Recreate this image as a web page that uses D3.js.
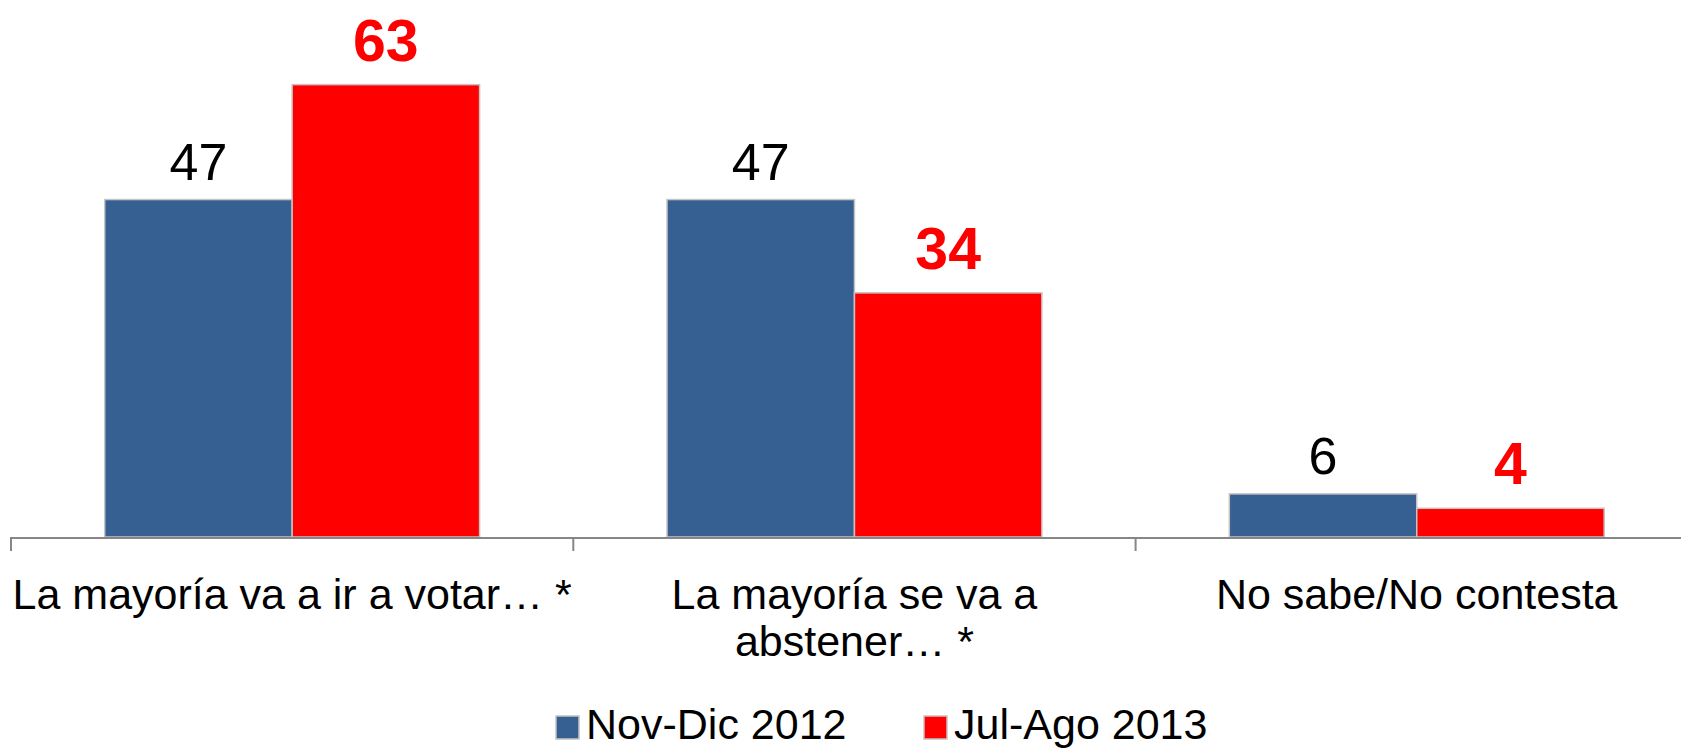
<!DOCTYPE html>
<html>
<head>
<meta charset="utf-8">
<script src="https://cdn.jsdelivr.net/npm/d3@7"></script>
<style>
  html, body { margin: 0; padding: 0; background: #fff; }
  svg { display: block; font-family: "Liberation Sans", Arial, sans-serif; }
</style>
</head>
<body>
<svg id="chart" width="1681" height="749"></svg>
<script>
// Survey responses, two waves
const categories = [
  ["La mayoría va a ir a votar… *"],
  ["La mayoría se va a", "abstener… *"],
  ["No sabe/No contesta"]
];
const seriesNames = ["Nov-Dic 2012", "Jul-Ago 2013"];
const novDic2012 = [47, 47, 6];
const julAgo2013 = [63, 34, 4];
const seriesValues = [novDic2012, julAgo2013];
const seriesColors = ["#376092", "#FF0000"];

const svg = d3.select("#chart");
const W = 1681, H = 749;

const baseY = 537;
const left = 11;
const catWidth = 562.3;

const x0 = d3.scaleBand()
  .domain(d3.range(categories.length))
  .range([left, left + catWidth * categories.length])
  .paddingInner(0).paddingOuter(0);

const x1 = d3.scaleBand()
  .domain(d3.range(seriesNames.length))
  .range([0, x0.bandwidth()])
  .paddingInner(0)
  .paddingOuter(0.5);

const y = d3.scaleLinear().domain([0, 70]).range([baseY, baseY - 70 * 7.18]);

// Bars
const groups = svg.append("g").selectAll("g")
  .data(categories.map((c, i) => i))
  .join("g")
  .attr("transform", i => `translate(${x0(i)},0)`);

groups.selectAll("rect")
  .data(i => seriesValues.map((vals, s) => ({ s, v: vals[i] })))
  .join("rect")
  .attr("x", d => x1(d.s))
  .attr("width", x1.bandwidth())
  .attr("y", d => y(d.v))
  .attr("height", d => baseY - y(d.v))
  .attr("fill", d => seriesColors[d.s])
  .attr("stroke", "#C4C4C4")
  .attr("stroke-width", 1.5);

// Value labels
groups.selectAll("text.val")
  .data(i => seriesValues.map((vals, s) => ({ s, v: vals[i] })))
  .join("text")
  .attr("class", "val")
  .attr("x", d => x1(d.s) + x1.bandwidth() / 2)
  .attr("y", d => y(d.v) - (d.s === 0 ? 20 : 24))
  .attr("text-anchor", "middle")
  .attr("font-size", d => d.s === 0 ? 52 : 59)
  .attr("font-weight", d => d.s === 0 ? "normal" : "bold")
  .attr("fill", d => d.s === 0 ? "#000" : "#FF0000")
  .text(d => d.v);

// Category axis
const axis = svg.append("g");
axis.append("line")
  .attr("x1", left).attr("x2", W)
  .attr("y1", baseY + 1).attr("y2", baseY + 1)
  .attr("stroke", "#868686").attr("stroke-width", 2);

axis.selectAll("line.tick")
  .data(d3.range(categories.length + 1))
  .join("line")
  .attr("class", "tick")
  .attr("x1", i => left + catWidth * i)
  .attr("x2", i => left + catWidth * i)
  .attr("y1", baseY).attr("y2", baseY + 14)
  .attr("stroke", "#868686").attr("stroke-width", 2);

axis.selectAll("text.cat")
  .data(categories.map((c, i) => ({ c, i })))
  .join("text")
  .attr("class", "cat")
  .attr("x", d => x0(d.i) + x0.bandwidth() / 2)
  .attr("y", 609)
  .attr("text-anchor", "middle")
  .attr("font-size", 43)
  .attr("fill", "#000")
  .each(function(d) {
    d3.select(this).selectAll("tspan")
      .data(d.c)
      .join("tspan")
      .attr("x", x0(d.i) + x0.bandwidth() / 2)
      .attr("dy", (t, k) => k === 0 ? 0 : 47)
      .text(t => t);
  });

// Legend
const legendItems = [
  { name: seriesNames[0], color: seriesColors[0], x: 556 },
  { name: seriesNames[1], color: seriesColors[1], x: 924 }
];
const legend = svg.append("g");
legend.selectAll("rect")
  .data(legendItems)
  .join("rect")
  .attr("x", d => d.x).attr("y", 716)
  .attr("width", 23).attr("height", 23)
  .attr("fill", d => d.color)
  .attr("stroke", "#C4C4C4").attr("stroke-width", 1.5);
legend.selectAll("text")
  .data(legendItems)
  .join("text")
  .attr("x", d => d.x + 30).attr("y", 739)
  .attr("font-size", 43)
  .attr("fill", "#000")
  .text(d => d.name);
</script>
</body>
</html>
